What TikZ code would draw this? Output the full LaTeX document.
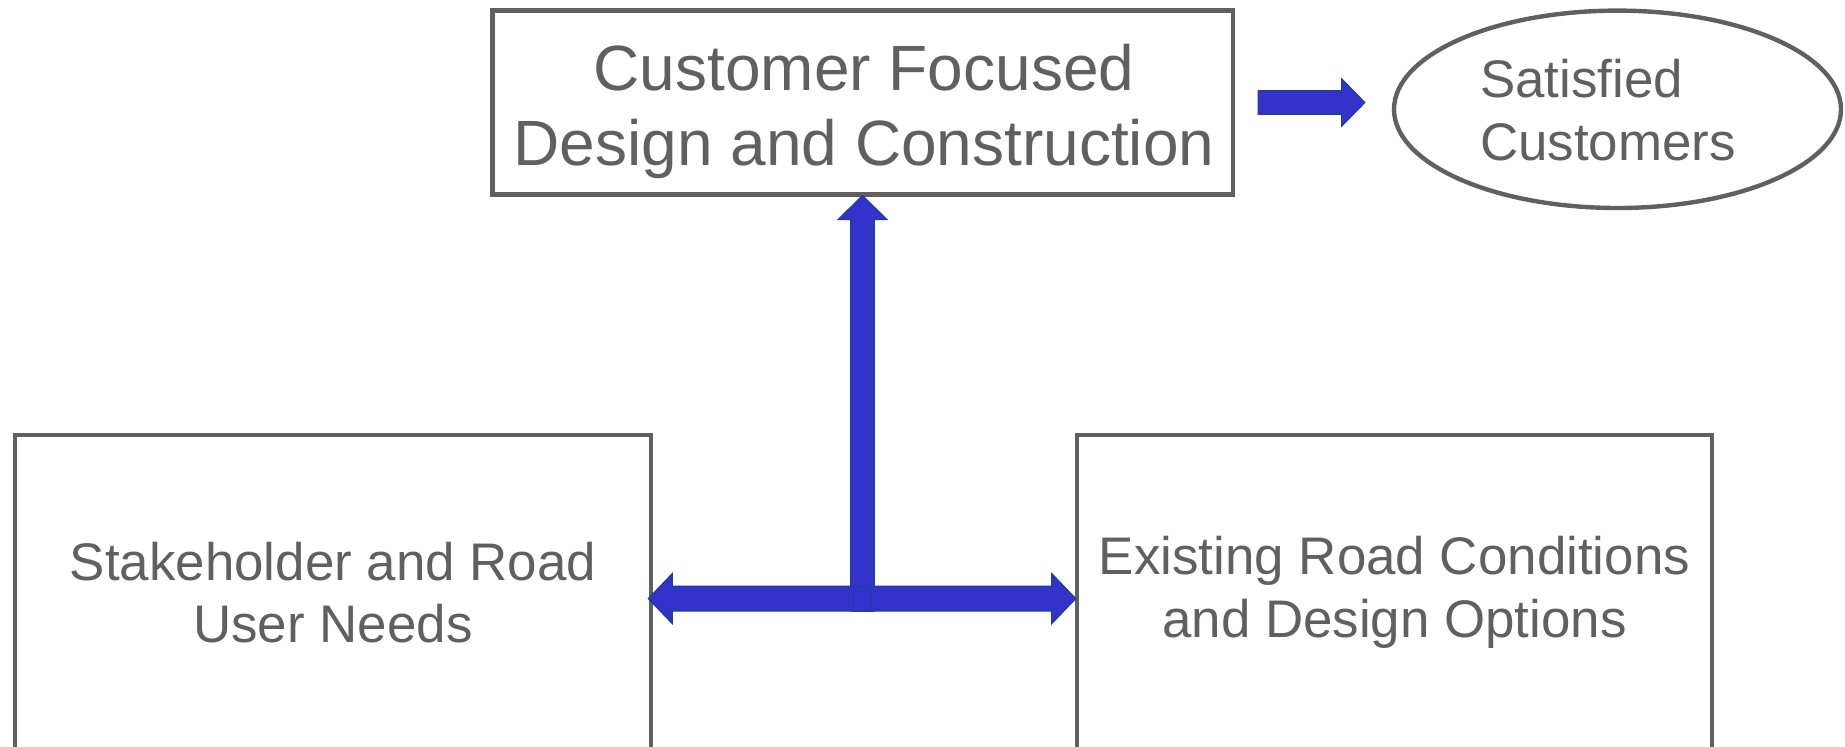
\documentclass[tikz,border=0pt]{standalone}
\usepackage{fontspec}
\setmainfont{Liberation Sans}
\usetikzlibrary{shapes.geometric,calc}
\definecolor{txtgray}{HTML}{606060}
\definecolor{arrowfill}{HTML}{3333CC}
\definecolor{arrowline}{HTML}{1F3D99}
\tikzset{
  box/.style={draw=txtgray, line width=2.3pt, text=txtgray, align=center, inner sep=0pt},
  lbl/.style={text=txtgray, inner sep=0pt},
  bigtxt/.style={font=\fontsize{32}{37.5}\selectfont},
  midtxt/.style={font=\fontsize{26.45}{31.2}\selectfont},
  blockarrow/.style={fill=arrowfill, draw=arrowline, line width=0.6pt, line join=miter},
}
\begin{document}
\begin{tikzpicture}[x=0.5pt,y=-0.5pt]
\useasboundingbox (0,0) rectangle (1845,746);
\clip (0,0) rectangle (1845,746);
\fill[white] (0,0) rectangle (1845,746);

% nodes
\node[box, minimum width=370.3pt, minimum height=91.8pt] (cfd) at (862.5,102.5) {};
\node[lbl, bigtxt, align=center] (cfdlabel) at (864,111) {Customer Focused\\Design and Construction};
\node[ellipse, draw=txtgray, line width=2.2pt, minimum width=223.5pt, minimum height=98.7pt, inner sep=0pt] (sat) at (1617.5,109.3) {};
\node[lbl, midtxt, align=left] (satlabel) at (1608,110) {Satisfied\\Customers};
\node[box, midtxt, minimum width=318pt, minimum height=157.5pt] (stake) at (333,592.5) {Stakeholder and Road\\User Needs};
\node[box, midtxt, minimum width=317.5pt, minimum height=157.5pt] (exist) at (1394.5,592.5) {Existing Road Conditions\\and Design Options};

% arrow to satisfied customers
\coordinate (r0) at ($(cfd.east)+(23,0)$);
\coordinate (r1) at ($(sat.west |- r0)+(-27,0)$);
\draw[blockarrow] ($(r0)+(0,-11.7)$) -- ($(r1)+(-23,-11.7)$) -- ($(r1)+(-23,-23.5)$) -- (r1)
  -- ($(r1)+(-23,23.5)$) -- ($(r1)+(-23,11.7)$) -- ($(r0)+(0,11.7)$) -- cycle;

% junction
\coordinate (J) at ($(cfd.south)+(0,402)$);
\coordinate (T) at ($(cfd.south)+(0,-1)$);
\coordinate (L) at ($(stake.east |- J)+(-5,0)$);
\coordinate (R) at ($(exist.west |- J)+(1,0)$);

% vertical arrow
\draw[blockarrow] (T) -- ($(T)+(24.5,24)$) -- ($(T)+(11.7,24)$) -- ($(J)+(11.7,12.5)$)
  -- ($(J)+(-11.7,12.5)$) -- ($(T)+(-11.7,24)$) -- ($(T)+(-24.5,24)$) -- cycle;

% left arrow
\draw[blockarrow] ($(J)+(-9,-12.5)$) -- ($(L)+(24,-12.5)$) -- ($(L)+(24,-25)$) -- (L)
  -- ($(L)+(24,25)$) -- ($(L)+(24,12.5)$) -- ($(J)+(-9,12.5)$) -- cycle;
% right arrow
\draw[blockarrow] ($(J)+(9,-12.5)$) -- ($(R)+(-24,-12.5)$) -- ($(R)+(-24,-25)$) -- (R)
  -- ($(R)+(-24,25)$) -- ($(R)+(-24,12.5)$) -- ($(J)+(9,12.5)$) -- cycle;
% centre piece
\draw[blockarrow] ($(J)+(-9,-12.5)$) rectangle ($(J)+(9,12.5)$);
\end{tikzpicture}
\end{document}
